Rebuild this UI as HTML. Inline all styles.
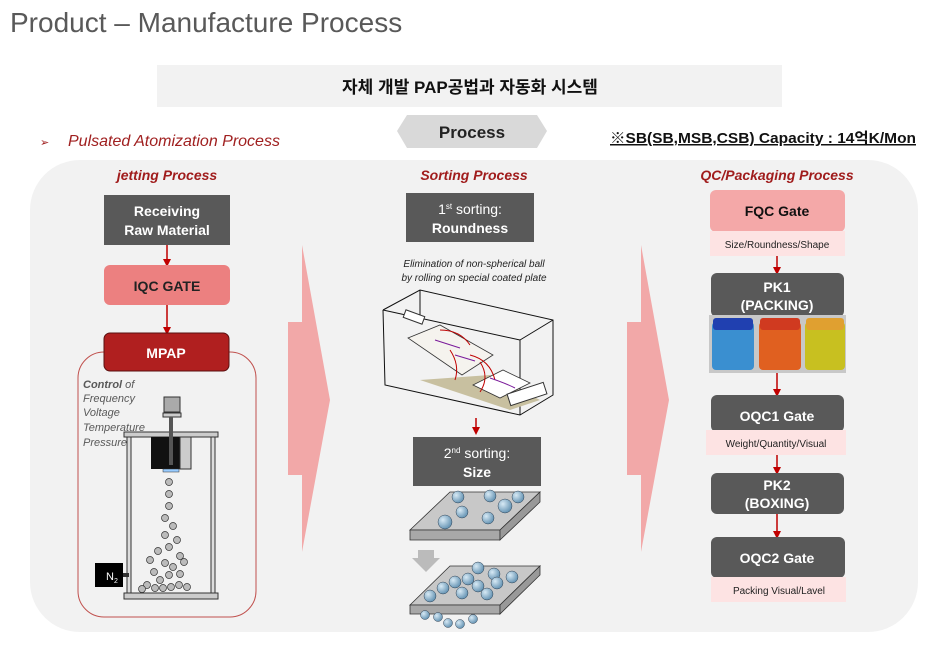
<!DOCTYPE html>
<html><head><meta charset="utf-8"><style>
body{margin:0;background:#fff;width:943px;height:657px;overflow:hidden}
svg{display:block}
text{font-family:"Liberation Sans","Noto Sans CJK KR",sans-serif}
</style></head><body>
<svg width="943" height="657" viewBox="0 0 943 657" xmlns="http://www.w3.org/2000/svg">
<defs>
<marker id="ar" markerWidth="8" markerHeight="8" refX="4" refY="4" orient="auto" markerUnits="userSpaceOnUse"><path d="M0,0 L8,4 L0,8 z" fill="#c00000"/></marker>
<radialGradient id="ball" cx="0.35" cy="0.35" r="0.7"><stop offset="0" stop-color="#d8eaf5"/><stop offset="1" stop-color="#5f8fb0"/></radialGradient>
</defs>
<text x="10" y="32" font-size="28" fill="#595959">Product – Manufacture Process</text>
<rect x="157" y="65" width="625" height="42" fill="#f2f2f2"/>
<text x="470" y="93" font-size="17" font-weight="bold" text-anchor="middle" fill="#111">자체 개발 PAP공법과 자동화 시스템</text>
<polygon points="407,115 537,115 547,131 537,148 407,148 397,131" fill="#d9d9d9"/>
<text x="472" y="138" font-size="17" font-weight="bold" text-anchor="middle" fill="#222">Process</text>
<text x="40" y="146" font-size="11" fill="#a02020">➢</text>
<text x="68" y="146" font-size="16" font-style="italic" fill="#a02020">Pulsated Atomization Process</text>
<text x="610" y="143" font-size="15" font-weight="bold" fill="#111" text-decoration="underline" textLength="306" lengthAdjust="spacingAndGlyphs">※SB(SB,MSB,CSB) Capacity : 14억K/Mon</text>
<rect x="30" y="160" width="888" height="472" rx="50" fill="#f2f2f2"/>

<polygon points="288,322 302,322 302,245 330,400 302,552 302,475 288,475" fill="#f2a8a8"/>
<polygon points="627,322 641,322 641,245 669,400 641,552 641,475 627,475" fill="#f2a8a8"/>

<text x="167" y="180" font-size="14" font-weight="bold" font-style="italic" fill="#a01c1c" text-anchor="middle">jetting Process</text>
<rect x="104" y="195" width="126" height="50" fill="#595959"/>
<text x="167" y="216" font-size="14" font-weight="bold" fill="#fff" text-anchor="middle">Receiving</text>
<text x="167" y="235" font-size="14" font-weight="bold" fill="#fff" text-anchor="middle">Raw Material</text>
<line x1="167" y1="245" x2="167" y2="263" stroke="#c00000" stroke-width="1.5" marker-end="url(#ar)"/>
<rect x="104" y="265" width="126" height="40" rx="6" fill="#ec8080"/>
<text x="167" y="291" font-size="14" font-weight="bold" fill="#222" text-anchor="middle">IQC GATE</text>
<line x1="167" y1="305" x2="167" y2="331" stroke="#c00000" stroke-width="1.5" marker-end="url(#ar)"/>
<rect x="78" y="352" width="178" height="265" rx="26" fill="none" stroke="#c0504d" stroke-width="1"/>
<rect x="104" y="333" width="125" height="38" rx="6" fill="#b01f1f" stroke="#5a1010"/>
<text x="166" y="358" font-size="14" font-weight="bold" fill="#fff" text-anchor="middle">MPAP</text>
<g font-size="11" font-style="italic" fill="#595959">
<text x="83" y="388"><tspan font-weight="bold">Control</tspan> of</text>
<text x="83" y="402">Frequency</text>
<text x="83" y="416">Voltage</text>
<text x="83" y="431">Temperature</text>
<text x="83" y="446">Pressure</text>
</g>
<rect x="164" y="397" width="16" height="15" fill="#aaa" stroke="#333"/>
<rect x="163" y="413" width="18" height="4" fill="#ccc" stroke="#333"/>
<rect x="124" y="432" width="94" height="5" fill="#ccc" stroke="#333"/>
<rect x="127" y="437" width="4" height="157" fill="#ddd" stroke="#333"/>
<rect x="211" y="437" width="4" height="157" fill="#ddd" stroke="#333"/>
<rect x="151" y="437" width="39" height="32" fill="#111"/>
<rect x="180" y="437" width="11" height="32" fill="#ccc" stroke="#333"/>
<rect x="169" y="417" width="4" height="48" fill="#555"/>
<rect x="163" y="469" width="16" height="3" fill="#9cf" stroke="#333" stroke-width="0.5"/>
<rect x="124" y="593" width="94" height="6" fill="#ccc" stroke="#333"/>
<g fill="#bbb" stroke="#333" stroke-width="0.7">
<circle cx="169" cy="482" r="3.5"/><circle cx="169" cy="494" r="3.5"/><circle cx="169" cy="506" r="3.5"/>
<circle cx="165" cy="518" r="3.5"/><circle cx="173" cy="526" r="3.5"/><circle cx="165" cy="535" r="3.5"/>
<circle cx="177" cy="540" r="3.5"/><circle cx="169" cy="547" r="3.5"/><circle cx="158" cy="551" r="3.5"/>
<circle cx="180" cy="556" r="3.5"/><circle cx="150" cy="560" r="3.5"/><circle cx="165" cy="563" r="3.5"/>
<circle cx="173" cy="567" r="3.5"/><circle cx="184" cy="562" r="3.5"/><circle cx="154" cy="572" r="3.5"/>
<circle cx="169" cy="575" r="3.5"/><circle cx="180" cy="574" r="3.5"/><circle cx="160" cy="580" r="3.5"/>
<circle cx="147" cy="585" r="3.5"/><circle cx="155" cy="588" r="3.5"/><circle cx="163" cy="588" r="3.5"/>
<circle cx="171" cy="587" r="3.5"/><circle cx="179" cy="585" r="3.5"/><circle cx="187" cy="587" r="3.5"/>
<circle cx="142" cy="589" r="3.5"/>
</g>
<rect x="95" y="563" width="28" height="24" fill="#000"/>
<text x="106" y="580" font-size="11" fill="#fff">N<tspan font-size="7" dy="3">2</tspan></text>
<rect x="123" y="573" width="6" height="4" fill="#333"/>

<text x="474" y="180" font-size="14" font-weight="bold" font-style="italic" fill="#a01c1c" text-anchor="middle">Sorting Process</text>
<rect x="406" y="193" width="128" height="49" fill="#595959"/>
<text x="470" y="214" font-size="14" fill="#fff" text-anchor="middle">1<tspan font-size="8" dy="-5">st</tspan><tspan dy="5"> sorting:</tspan></text>
<text x="470" y="233" font-size="14" font-weight="bold" fill="#fff" text-anchor="middle">Roundness</text>
<text x="474" y="267" font-size="10" font-style="italic" fill="#222" text-anchor="middle">Elimination of non-spherical ball</text>
<text x="474" y="281" font-size="10" font-style="italic" fill="#222" text-anchor="middle">by rolling on special coated plate</text>
<g fill="none" stroke="#111" stroke-width="1">
<polyline points="383,310 420,290 553,320 553,395 520,415 385,385 383,310"/>
<line x1="420" y1="290" x2="420" y2="320"/><line x1="383" y1="310" x2="520" y2="340"/><line x1="520" y1="340" x2="553" y2="320"/><line x1="520" y1="340" x2="520" y2="415"/>
</g>
<polygon points="420,380 490,375 540,400 510,410" fill="#c8c0a0"/>
<polygon points="408,338 440,325 493,355 462,375" fill="#f5f3ee" stroke="#333" stroke-width="0.8"/>
<polygon points="473,385 503,370 530,383 500,398" fill="#fff" stroke="#333" stroke-width="0.8"/>
<rect x="508" y="388" width="38" height="12" fill="#fff" stroke="#333" transform="rotate(-18 527 394)"/>
<rect x="404" y="313" width="20" height="8" fill="#fff" stroke="#333" transform="rotate(20 414 317)"/>
<g fill="none" stroke="#c00000" stroke-width="1"><path d="M440,330 q20,0 30,15"/><path d="M450,350 q10,15 5,30"/><path d="M470,355 q20,5 25,25"/><path d="M480,362 q10,15 0,30"/></g>
<g fill="none" stroke="#7a1a9a" stroke-width="1"><path d="M435,340 l25,8"/><path d="M455,355 l20,6"/><path d="M490,378 q15,5 25,10"/></g>
<line x1="476" y1="418" x2="476" y2="431" stroke="#c00000" stroke-width="1.5" marker-end="url(#ar)"/>
<rect x="413" y="437" width="128" height="49" fill="#595959"/>
<text x="477" y="458" font-size="14" fill="#fff" text-anchor="middle">2<tspan font-size="8" dy="-5">nd</tspan><tspan dy="5"> sorting:</tspan></text>
<text x="477" y="477" font-size="14" font-weight="bold" fill="#fff" text-anchor="middle">Size</text>
<polygon points="410,530 450,492 540,492 500,530" fill="#c8c8c8" stroke="#333" stroke-width="0.8"/>
<polygon points="410,530 500,530 500,540 410,540" fill="#a8a8a8" stroke="#333" stroke-width="0.8"/>
<polygon points="500,530 540,492 540,502 500,540" fill="#999" stroke="#333" stroke-width="0.8"/>
<g fill="url(#ball)" stroke="#345" stroke-width="0.5">
<circle cx="458" cy="497" r="6"/><circle cx="490" cy="496" r="6"/><circle cx="518" cy="497" r="6"/><circle cx="462" cy="512" r="6"/><circle cx="505" cy="506" r="7"/><circle cx="445" cy="522" r="7"/><circle cx="488" cy="518" r="6"/>
</g>
<polygon points="418,550 434,550 434,558 440,558 426,572 412,558 418,558" fill="#bbb"/>
<polygon points="410,605 450,566 540,566 500,605" fill="#c8c8c8" stroke="#333" stroke-width="0.8"/>
<polygon points="410,605 500,605 500,614 410,614" fill="#a8a8a8" stroke="#333" stroke-width="0.8"/>
<polygon points="500,605 540,566 540,575 500,614" fill="#999" stroke="#333" stroke-width="0.8"/>
<g fill="url(#ball)" stroke="#345" stroke-width="0.5">
<circle cx="478" cy="568" r="6"/><circle cx="494" cy="574" r="6"/><circle cx="512" cy="577" r="6"/><circle cx="468" cy="579" r="6"/><circle cx="497" cy="583" r="6"/><circle cx="455" cy="582" r="6"/><circle cx="478" cy="586" r="6"/><circle cx="443" cy="588" r="6"/><circle cx="462" cy="593" r="6"/><circle cx="487" cy="594" r="6"/><circle cx="430" cy="596" r="6"/>
<circle cx="425" cy="615" r="4.5"/><circle cx="438" cy="617" r="4.5"/><circle cx="448" cy="623" r="4.5"/><circle cx="460" cy="624" r="4.5"/><circle cx="473" cy="619" r="4.5"/>
</g>

<text x="777" y="180" font-size="14" font-weight="bold" font-style="italic" fill="#a01c1c" text-anchor="middle">QC/Packaging Process</text>
<rect x="710" y="190" width="135" height="42" rx="6" fill="#f4a8a8"/>
<text x="777" y="216" font-size="14" font-weight="bold" fill="#111" text-anchor="middle">FQC Gate</text>
<rect x="710" y="231" width="135" height="25" fill="#fde3e3"/>
<text x="777" y="248" font-size="10" fill="#222" text-anchor="middle">Size/Roundness/Shape</text>
<line x1="777" y1="256" x2="777" y2="271" stroke="#c00000" stroke-width="1.5" marker-end="url(#ar)"/>
<rect x="711" y="273" width="133" height="44" rx="6" fill="#595959"/>
<text x="777" y="292" font-size="14" font-weight="bold" fill="#fff" text-anchor="middle">PK1</text>
<text x="777" y="310" font-size="14" font-weight="bold" fill="#fff" text-anchor="middle">(PACKING)</text>
<rect x="709" y="315" width="137" height="58" fill="#c8c8c8"/>
<rect x="712" y="322" width="42" height="48" rx="4" fill="#3a8fd0"/><rect x="713" y="318" width="40" height="12" rx="3" fill="#2040b0"/>
<rect x="759" y="322" width="42" height="48" rx="4" fill="#e06020"/><rect x="760" y="318" width="40" height="12" rx="3" fill="#d03a20"/>
<rect x="805" y="322" width="40" height="48" rx="4" fill="#c8c020"/><rect x="806" y="318" width="38" height="12" rx="3" fill="#e0a030"/>
<line x1="777" y1="373" x2="777" y2="393" stroke="#c00000" stroke-width="1.5" marker-end="url(#ar)"/>
<rect x="711" y="395" width="133" height="37" rx="6" fill="#595959"/>
<text x="777" y="421" font-size="14" font-weight="bold" fill="#fff" text-anchor="middle">OQC1 Gate</text>
<rect x="706" y="430" width="140" height="25" fill="#fde3e3"/>
<text x="776" y="447" font-size="10" fill="#222" text-anchor="middle">Weight/Quantity/Visual</text>
<line x1="777" y1="455" x2="777" y2="471" stroke="#c00000" stroke-width="1.5" marker-end="url(#ar)"/>
<rect x="711" y="473" width="133" height="41" rx="6" fill="#595959"/>
<text x="777" y="490" font-size="14" font-weight="bold" fill="#fff" text-anchor="middle">PK2</text>
<text x="777" y="508" font-size="14" font-weight="bold" fill="#fff" text-anchor="middle">(BOXING)</text>
<line x1="777" y1="514" x2="777" y2="535" stroke="#c00000" stroke-width="1.5" marker-end="url(#ar)"/>
<rect x="711" y="537" width="134" height="41" rx="6" fill="#595959"/>
<text x="777" y="563" font-size="14" font-weight="bold" fill="#fff" text-anchor="middle">OQC2 Gate</text>
<rect x="711" y="577" width="135" height="25" fill="#fde3e3"/>
<text x="779" y="594" font-size="10" fill="#222" text-anchor="middle">Packing Visual/Lavel</text>
</svg>
</body></html>
